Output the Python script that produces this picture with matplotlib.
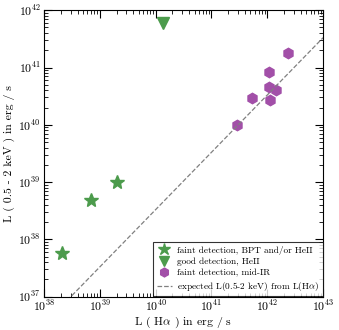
import numpy as np
import matplotlib
matplotlib.use("Agg")
import matplotlib.pyplot as plt

# data (log10 luminosities)
bpt_lha = [38.32, 38.85, 39.30]
bpt_lx = [37.77, 38.68, 39.00]
heii_lha = [40.14]
heii_lx = [41.77]
ir_lha = [41.45, 41.72, 42.05, 42.04, 42.15, 42.03, 42.37]
ir_lx = [40.00, 40.46, 40.43, 40.66, 40.61, 40.93, 41.26]
offset = -1.48  # expected log Lx - log LHa
line_lha = [38.0, 43.0]

plt.rcParams['font.family'] = 'serif'
plt.rcParams['font.serif'] = ['cmr10', 'DejaVu Serif']
plt.rcParams['mathtext.fontset'] = 'cm'
plt.rcParams['axes.formatter.use_mathtext'] = True
plt.rcParams['font.size'] = 8.5

fig = plt.figure(figsize=(3.39, 3.30), dpi=100)
ax = fig.add_axes([0.13, 0.101, 0.823, 0.868])

green = '#4c9b4c'
purple = '#a24fa8'
ax.plot(10**np.array(bpt_lha), 10**np.array(bpt_lx), '*', ms=10.5, color=green,
        mec=green, ls='none', label='faint detection, BPT and/or HeII')
ax.plot(10**np.array(heii_lha), 10**np.array(heii_lx), 'v', ms=8, color=green,
        mec=green, ls='none', label='good detection, HeII')
ax.plot(10**np.array(ir_lha), 10**np.array(ir_lx), 'h', ms=7.5, color=purple,
        mec=purple, ls='none', label='faint detection, mid-IR')
lx = 10**np.array(line_lha)
ax.plot(lx, lx * 10**offset, '--', color='grey', lw=0.9,
        label=r'expected L(0.5-2 keV) from L(H$\alpha$)')

ax.set_xscale('log')
ax.set_yscale('log')
ax.set_xlim(1e38, 1e43)
ax.set_ylim(1e37, 1e42)
ax.tick_params(which='both', direction='in', top=True, right=True, labelsize=8.5)
ax.tick_params(axis='x', which='both', pad=1.5)
ax.tick_params(axis='y', which='both', pad=2.5)
ax.tick_params(which='major', length=6)
ax.tick_params(which='minor', length=3)
ax.set_xlabel(r'L ( H$\alpha$ ) in erg / s', fontsize=8.5, labelpad=0.5)
ax.set_ylabel('L ( 0.5 - 2 keV ) in erg / s', fontsize=8.5, labelpad=2)

leg = ax.legend(loc='lower right', fontsize=6.7, fancybox=False, edgecolor='black',
                handletextpad=0.6, borderpad=0.35, labelspacing=0.3,
                handlelength=1.6, numpoints=1, markerscale=0.85,
                borderaxespad=0.05)
leg.get_frame().set_linewidth(0.8)

fig.savefig('out.png', dpi=100)
